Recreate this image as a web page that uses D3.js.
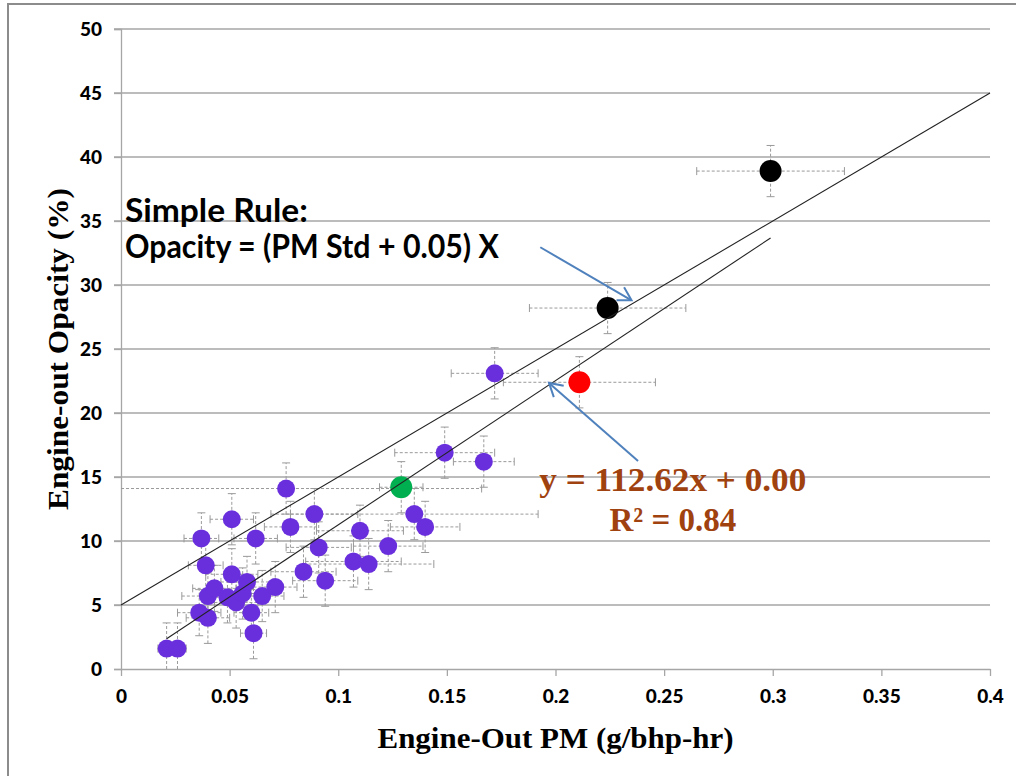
<!DOCTYPE html>
<html>
<head>
<meta charset="utf-8">
<script src="https://cdn.jsdelivr.net/npm/d3@7"></script>
<style>
  body { margin: 0; background: #fff; }
  svg { display: block; }
</style>
</head>
<body>
<div class="chart"></div>
<script>
// purple points (most of the engines)
const pmPurple      = [0.021, 0.026, 0.036, 0.040, 0.040, 0.043, 0.049, 0.053, 0.056, 0.058, 0.051, 0.039, 0.037, 0.051, 0.062, 0.060, 0.061, 0.065, 0.071, 0.076, 0.078, 0.084, 0.089, 0.091, 0.094, 0.107, 0.110, 0.114, 0.123, 0.135, 0.140, 0.149, 0.167, 0.172];
const opacityPurple = [1.6, 1.6, 4.4, 4.0, 5.7, 6.3, 5.6, 5.2, 5.9, 6.8, 7.4, 8.1, 10.2, 11.7, 10.2, 4.4, 2.8, 5.7, 6.4, 14.1, 11.1, 7.6, 12.1, 9.5, 6.9, 8.4, 10.8, 8.2, 9.6, 12.1, 11.1, 16.9, 16.2, 23.1];
const pmErrPurple   = [0.004, 0.004, 0.010, 0.010, 0.012, 0.010, 0.008, 0.010, 0.010, 0.012, 0.012, 0.008, 0.008, 0.010, 0.010, 0.008, 0.006, 0.010, 0.010, 0.090, 0.012, 0.015, 0.020, 0.015, 0.015, 0.022, 0.020, 0.030, 0.016, 0.057, 0.016, 0.023, 0.014, 0.020];
const opErrPurple   = [2.0, 2.0, 1.8, 2.0, 1.8, 1.8, 2.0, 2.0, 2.0, 2.0, 2.0, 2.0, 2.0, 2.0, 2.0, 1.8, 2.0, 2.0, 2.0, 2.0, 2.0, 2.0, 2.0, 2.0, 2.0, 2.0, 2.0, 2.0, 2.0, 2.0, 2.0, 2.0, 2.0, 2.0];

// the highlighted ones
const pmGreen = [0.129], opacityGreen = [14.2], pmErrGreen = [0.010], opErrGreen = [2.0];
const pmRed = [0.211], opacityRed = [22.4], pmErrRed = [0.035], opErrRed = [2.0];
const pmBlack = [0.224, 0.299], opacityBlack = [28.2, 38.9], pmErrBlack = [0.036, 0.034], opErrBlack = [2.0, 2.0];

const xTicks = [0, 0.05, 0.1, 0.15, 0.2, 0.25, 0.3, 0.35, 0.4];
const yTicks = [0, 5, 10, 15, 20, 25, 30, 35, 40, 45, 50];

// lines: simple rule and excel trendline
const ruleSlope = 100, ruleIntercept = 5;
const trendSlope = 112.62, trendIntercept = 0;
const trendLabel = "y = 112.62x + 0.00";
const r2Label = "R² = 0.84";

const width = 1016;
const height = 776;
const margin = {top: 29, right: 26, bottom: 107, left: 121};

// build one list so the markers can be drawn in one pass
function makeSeries(xs, ys, xe, ye, color, r) {
    return xs.map((x, i) => ({x: x, y: ys[i], xe: xe[i], ye: ye[i], color: color, r: r}));
}
const points = [].concat(
    makeSeries(pmPurple, opacityPurple, pmErrPurple, opErrPurple, "#6a2fdc", 9),
    makeSeries(pmGreen, opacityGreen, pmErrGreen, opErrGreen, "#00b050", 11),
    makeSeries(pmRed, opacityRed, pmErrRed, opErrRed, "#ff0000", 11),
    makeSeries(pmBlack, opacityBlack, pmErrBlack, opErrBlack, "#000000", 11)
);

const svg = d3.select(".chart")
    .append("svg")
    .attr("width", width)
    .attr("height", height);

// outer frame (only top and left show in the window)
svg.append("rect")
    .attr("x", 8)
    .attr("y", 4)
    .attr("width", width + 20)
    .attr("height", height + 20)
    .attr("fill", "none")
    .attr("stroke", "#8c8c8c")
    .attr("stroke-width", 2);

const x = d3.scaleLinear()
    .domain([0, 0.4])
    .range([margin.left, width - margin.right]);

const y = d3.scaleLinear()
    .domain([0, 50])
    .range([height - margin.bottom, margin.top]);

const gridColor = "#a6a6a6";
const tickFont = "Lato, 'Open Sans', sans-serif";

// horizontal gridlines + y ticks
svg.append("g")
    .selectAll("line")
    .data(yTicks.filter(d => d > 0))
    .enter()
    .append("line")
    .attr("x1", x(0) - 7)
    .attr("x2", x(0.4))
    .attr("y1", d => y(d))
    .attr("y2", d => y(d))
    .attr("stroke", gridColor)
    .attr("stroke-width", 1.3);

// y axis
const yAxis = svg.append("g")
    .attr("transform", `translate(${x(0)}, 0)`)
    .call(d3.axisLeft(y).tickValues(yTicks).tickSize(7).tickPadding(12).tickFormat(d3.format("d")));
yAxis.select(".domain").attr("stroke", gridColor).attr("stroke-width", 1.3);
yAxis.selectAll(".tick line").attr("stroke", gridColor).attr("stroke-width", 1.3);
yAxis.selectAll("text")
    .style("font-family", tickFont)
    .style("font-weight", "900")
    .style("font-size", "19px")
    .attr("fill", "#000");

// x axis
const xAxis = svg.append("g")
    .attr("transform", `translate(0, ${y(0)})`)
    .call(d3.axisBottom(x).tickValues(xTicks).tickSize(7).tickPadding(14).tickSizeOuter(0).tickFormat(d => d === 0 ? "0" : String(+d.toFixed(2))));
xAxis.select(".domain").attr("stroke", gridColor).attr("stroke-width", 1.3);
xAxis.selectAll(".tick line").attr("stroke", gridColor).attr("stroke-width", 1.3);
xAxis.selectAll("text")
    .style("font-family", tickFont)
    .style("font-weight", "900")
    .style("font-size", "19px")
    .attr("fill", "#000");

// axis titles
svg.append("text")
    .attr("x", (x(0) + x(0.4)) / 2)
    .attr("y", 748)
    .attr("text-anchor", "middle")
    .attr("textLength", 356)
    .attr("lengthAdjust", "spacingAndGlyphs")
    .style("font-family", "'Liberation Serif', 'Times New Roman', serif")
    .style("font-weight", "bold")
    .style("font-size", "29px")
    .text("Engine-Out PM (g/bhp-hr)");

svg.append("text")
    .attr("transform", `translate(68, ${(y(0) + y(50)) / 2}) rotate(-90)`)
    .attr("text-anchor", "middle")
    .attr("textLength", 322)
    .attr("lengthAdjust", "spacingAndGlyphs")
    .style("font-family", "'Liberation Serif', 'Times New Roman', serif")
    .style("font-weight", "bold")
    .style("font-size", "30px")
    .text("Engine-out Opacity (%)");

// error bars, dashed grey with caps
const errColor = "#9a9a9a";
const cap = 4;
const clampX = v => Math.max(0, Math.min(0.4, v));
const err = svg.append("g").attr("class", "errbars");

err.selectAll(".xerr")
    .data(points)
    .enter()
    .append("line")
    .attr("x1", d => x(clampX(d.x - d.xe)))
    .attr("x2", d => x(clampX(d.x + d.xe)))
    .attr("y1", d => y(d.y))
    .attr("y2", d => y(d.y))
    .attr("stroke", errColor)
    .attr("stroke-dasharray", "3,2");

err.selectAll(".xcapL")
    .data(points.filter(d => d.x - d.xe >= 0))
    .enter()
    .append("line")
    .attr("x1", d => x(d.x - d.xe))
    .attr("x2", d => x(d.x - d.xe))
    .attr("y1", d => y(d.y) - cap)
    .attr("y2", d => y(d.y) + cap)
    .attr("stroke", errColor);

err.selectAll(".xcapR")
    .data(points)
    .enter()
    .append("line")
    .attr("x1", d => x(d.x + d.xe))
    .attr("x2", d => x(d.x + d.xe))
    .attr("y1", d => y(d.y) - cap)
    .attr("y2", d => y(d.y) + cap)
    .attr("stroke", errColor);

err.selectAll(".yerr")
    .data(points)
    .enter()
    .append("line")
    .attr("x1", d => x(d.x))
    .attr("x2", d => x(d.x))
    .attr("y1", d => y(Math.max(0, d.y - d.ye)))
    .attr("y2", d => y(d.y + d.ye))
    .attr("stroke", errColor)
    .attr("stroke-dasharray", "3,2");

err.selectAll(".ycapT")
    .data(points)
    .enter()
    .append("line")
    .attr("x1", d => x(d.x) - cap)
    .attr("x2", d => x(d.x) + cap)
    .attr("y1", d => y(d.y + d.ye))
    .attr("y2", d => y(d.y + d.ye))
    .attr("stroke", errColor);

err.selectAll(".ycapB")
    .data(points.filter(d => d.y - d.ye >= 0))
    .enter()
    .append("line")
    .attr("x1", d => x(d.x) - cap)
    .attr("x2", d => x(d.x) + cap)
    .attr("y1", d => y(d.y - d.ye))
    .attr("y2", d => y(d.y - d.ye))
    .attr("stroke", errColor);

// markers
svg.append("g")
    .selectAll("circle")
    .data(points)
    .enter()
    .append("circle")
    .attr("cx", d => x(d.x))
    .attr("cy", d => y(d.y))
    .attr("r", d => d.r)
    .attr("fill", d => d.color);

// simple rule line across the whole plot
svg.append("line")
    .attr("x1", x(0))
    .attr("y1", y(ruleIntercept))
    .attr("x2", x(0.4))
    .attr("y2", y(ruleSlope * 0.4 + ruleIntercept))
    .attr("stroke", "#222")
    .attr("stroke-width", 1.1);

// trendline only spans the data
const xExt = d3.extent(points, d => d.x);
svg.append("line")
    .attr("x1", x(xExt[0]))
    .attr("y1", y(trendSlope * xExt[0] + trendIntercept))
    .attr("x2", x(xExt[1]))
    .attr("y2", y(trendSlope * xExt[1] + trendIntercept))
    .attr("stroke", "#222")
    .attr("stroke-width", 1.1);

// rule text
const ruleText = svg.append("text")
    .style("font-family", "Lato, 'Open Sans', sans-serif")
    .style("font-weight", "bold")
    .style("font-size", "32px")
    .attr("fill", "#000");
ruleText.append("tspan").attr("x", x(0.0018)).attr("y", y(34.9)).attr("textLength", 183).attr("lengthAdjust", "spacingAndGlyphs").text("Simple Rule:");
ruleText.append("tspan").attr("x", x(0.0018)).attr("y", y(32.1)).attr("textLength", 374).attr("lengthAdjust", "spacingAndGlyphs").text("Opacity = (PM Std + 0.05) X");

// equation text
const eq = svg.append("text")
    .attr("text-anchor", "middle")
    .style("font-family", "'Liberation Serif', 'Times New Roman', serif")
    .style("font-weight", "bold")
    .style("font-size", "33px")
    .attr("fill", "#a0420f");
eq.append("tspan").attr("x", x(0.254)).attr("y", y(13.9)).attr("textLength", 267).attr("lengthAdjust", "spacingAndGlyphs").text(trendLabel);
eq.append("tspan").attr("x", x(0.254)).attr("y", y(10.8)).text(r2Label);

// blue arrows with open heads
const arrows = [
    {from: [0.193, 32.95], to: [0.235, 28.8]},
    {from: [0.238, 16.25], to: [0.197, 22.35]}
];
const arrowColor = "#4f81bd";
const ag = svg.append("g");
arrows.forEach(a => {
    const x1 = x(a.from[0]), y1 = y(a.from[1]);
    const x2 = x(a.to[0]), y2 = y(a.to[1]);
    ag.append("line")
        .attr("x1", x1).attr("y1", y1).attr("x2", x2).attr("y2", y2)
        .attr("stroke", arrowColor).attr("stroke-width", 2);
    const ang = Math.atan2(y2 - y1, x2 - x1);
    const len = 15, spread = Math.PI / 6;
    const p1 = [x2 - len * Math.cos(ang - spread), y2 - len * Math.sin(ang - spread)];
    const p2 = [x2 - len * Math.cos(ang + spread), y2 - len * Math.sin(ang + spread)];
    ag.append("path")
        .attr("d", `M${p1[0]},${p1[1]}L${x2},${y2}L${p2[0]},${p2[1]}`)
        .attr("fill", "none")
        .attr("stroke", arrowColor)
        .attr("stroke-width", 2);
});
</script>
</body>
</html>
